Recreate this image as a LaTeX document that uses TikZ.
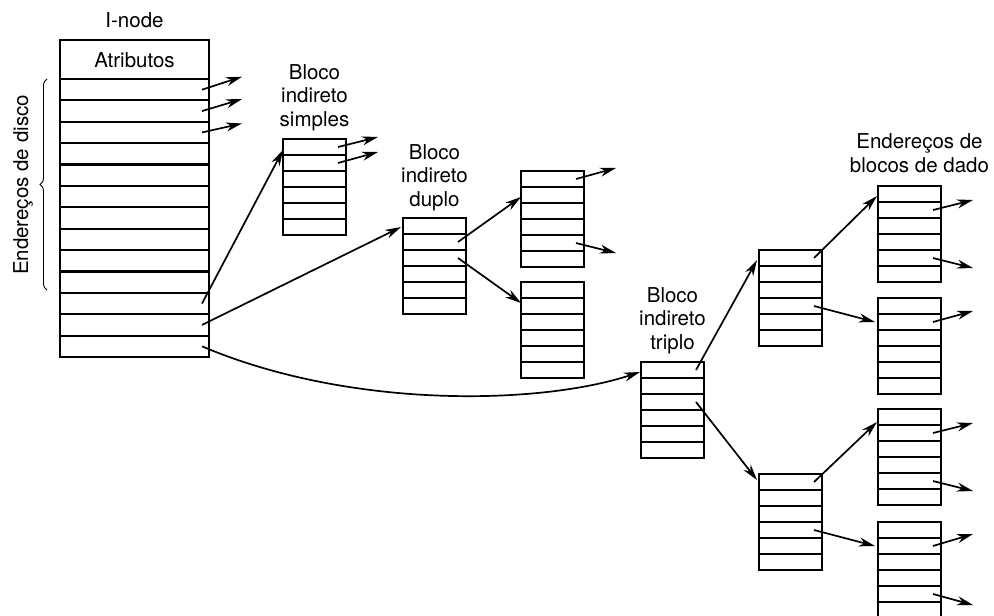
\documentclass[tikz,border=0pt]{standalone}
\usepackage{fontspec}
\setmainfont{TeX Gyre Heros}
\usetikzlibrary{arrows.meta,positioning,calc,decorations.pathreplacing}

% bloco de 6 enderecos: nome, canto superior esquerdo
\newcommand{\bloco}[2]{%
  \node [bloco, anchor=north west] (#1) at (#2) {};
  \foreach \i in {1,...,5}
    \draw [divisao] ($(#1.north west)+(0,{\i*16})$) -- ($(#1.north east)+(0,{\i*16})$);
  \foreach \i in {1,...,6}
    \coordinate (#1-\i) at ($(#1.north east)+(-8,{\i*16-8})$);
}

\begin{document}
\begin{tikzpicture}[x=1pt, y=-1pt, >={Stealth[length=16pt, width=9pt, inset=5pt]},
        rotulo/.style={inner sep=0pt, align=center, font=\fontsize{20.5}{23.5}\selectfont},
        bloco/.style={rectangle, draw, line width=2.2pt, minimum width=63pt, minimum height=96pt, inner sep=0pt, outer sep=0pt},
        divisao/.style={line width=1.4pt},
        seta/.style={->, line width=1.7pt},
        chave/.style={decorate, decoration={brace, amplitude=7pt}, line width=0.9pt}]
    \useasboundingbox (0,0) rectangle (994,616);
    \clip (0,0) rectangle (994,616);

    % i-node
    \node [bloco, minimum width=149pt, minimum height=317pt, anchor=north west] (inode) at (60,40) {};
    \node [rotulo] (atrib) at ($(inode.north)+(0,20)$) {Atributos};
    \foreach \i in {0,...,12}
        \draw [line width=2.2pt] ($(inode.north west)+(0,{39+\i*21.385})$) -- ($(inode.north east)+(0,{39+\i*21.385})$);
    \foreach \i in {1,...,13}
        \coordinate (inode-\i) at ($(inode.north east)+(-7,{39+(\i-0.5)*21.385})$);
    \node [rotulo, above=12pt of inode] (titulo) {I-node};
    \draw [chave] ($(inode.north west)+(-13,250)$) -- ($(inode.north west)+(-13,39)$);
    \node [rotulo, rotate=90] (disco) at (23,185) {Endereços de disco};

    % blocos indiretos
    \bloco{s}{283,139}
    \bloco{d}{403,218}
    \bloco{d1}{521,171}
    \bloco{d2}{521,282}
    \bloco{t}{641,362}
    \bloco{t1}{759,250}
    \bloco{t2}{759,474}
    \bloco{e1}{878,186}
    \bloco{e2}{878,298}
    \bloco{e3}{878,409}
    \bloco{e4}{878,522}

    \node [rotulo, above=8pt of s] (rot-s) {Bloco\\indireto\\simples};
    \node [rotulo, above=7pt of d] (rot-d) {Bloco\\indireto\\duplo};
    \node [rotulo, above=8pt of t] (rot-t) {Bloco\\indireto\\triplo};
    \node [rotulo, above=13pt of e1, xshift=10pt] (rot-e) {Endereços de\\blocos de dado};

    % ponteiros
    \draw [seta] (inode-11) -- ($(s.north west)+(0,11)$);
    \draw [seta] (inode-12) -- ($(d.north west)+(-2,9)$);
    \draw [seta] (inode-13) .. controls +(148,63) and +(-100,33) .. ($(t.north west)+(-1,10)$);
    \draw [seta] (d-2) -- ($(d1.north west)+(0,26)$);
    \draw [seta] (d-3) -- ($(d2.north west)+(0,21)$);
    \draw [seta] (t-1) -- ($(t1.north west)+(-2,10)$);
    \draw [seta] (t-3) -- ($(t2.north west)+(-2,6)$);
    \draw [seta] (t1-1) -- ($(e1.north west)+(-1,10)$);
    \draw [seta] (t1-4) -- ($(e2.north west)+(-3,24)$);
    \draw [seta] (t2-1) -- ($(e3.north west)+(-1,13)$);
    \draw [seta] (t2-4) -- ($(e4.north west)+(-3,24)$);

    % enderecos soltos
    \foreach \b/\r/\dy in {inode/1/-13, inode/2/-12, inode/3/-9, s/1/-10, s/2/-11,
            d1/1/-11, d1/5/10, e1/2/-10, e1/5/10, e2/2/-11, e3/2/-10, e3/5/10, e4/2/-12, e4/5/11} {
        \coordinate (\b-\r-fim) at ($(\b-\r)+(40,\dy)$);
        \draw [seta] (\b-\r) -- (\b-\r-fim);
    }
\end{tikzpicture}
\end{document}
